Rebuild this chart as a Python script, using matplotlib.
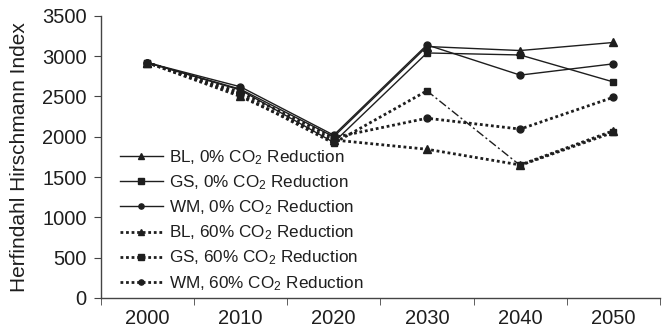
import numpy as np
import matplotlib
matplotlib.use("Agg")
import matplotlib.pyplot as plt

plt.rcParams['font.family'] = ['Liberation Sans', 'DejaVu Sans']
plt.rcParams['mathtext.fontset'] = 'custom'
plt.rcParams['mathtext.rm'] = 'Liberation Sans'
plt.rcParams['mathtext.default'] = 'regular'

years = [2000, 2010, 2020, 2030, 2040, 2050]

# HHI per scenario
bl_0 = [2920, 2590, 2000, 3120, 3070, 3170]
gs_0 = [2920, 2580, 1930, 3040, 3015, 2680]
wm_0 = [2920, 2620, 2020, 3140, 2765, 2905]
bl_60 = [2920, 2500, 1960, 1845, 1650, 2075]
gs_60 = [2920, 2520, 1920, 2570, 1645, 2055]
wm_60 = [2920, 2550, 1990, 2230, 2095, 2490]

ylabel = "Herfindahl Hirschmann Index"
yticks = [0, 500, 1000, 1500, 2000, 2500, 3000, 3500]

ink = '#1e1e1e'
solid = dict(color=ink, lw=1.0, ls='-')
dotted = dict(color=ink, lw=2.0, ls=(0, (1, 1)))

fig = plt.figure(figsize=(6.62, 3.31), dpi=100)
ax = fig.add_axes([0.152, 0.10, 0.845, 0.852])

ax.plot(years, bl_0, marker='^', ms=5.5, label="BL, 0% CO$_2$ Reduction", **solid)
ax.plot(years, gs_0, marker='s', ms=5, label="GS, 0% CO$_2$ Reduction", **solid)
ax.plot(years, wm_0, marker='o', ms=5, label="WM, 0% CO$_2$ Reduction", **solid)
ax.plot(years, bl_60, marker='^', ms=5.5, label="BL, 60% CO$_2$ Reduction", **dotted)
# GS 60% drawn in pieces: dotted, with a dash-dot drop between 2030 and 2040
ax.plot(years[:4], gs_60[:4], marker='s', ms=5, label="GS, 60% CO$_2$ Reduction", **dotted)
ax.plot(years[3:5], gs_60[3:5], color=ink, lw=1.0, ls=(0, (6, 2, 1.5, 2)))
ax.plot(years[4:], gs_60[4:], marker='s', ms=5, **dotted)
ax.plot(years, wm_60, marker='o', ms=5, label="WM, 60% CO$_2$ Reduction", **dotted)

ax.set_xlim(1995, 2055)
ax.set_ylim(0, 3500)
ax.set_yticks(yticks)
ax.set_xticks(years)
ax.set_xticks(np.arange(1995, 2056, 10), minor=True)
ax.tick_params(axis='x', which='major', length=0, pad=8, labelsize=14.5, colors=ink)
ax.tick_params(axis='x', which='minor', length=5, direction='out', color='#444')
ax.tick_params(axis='y', length=5, direction='out', color='#444', labelsize=14.5, labelcolor=ink, pad=5)
ax.set_ylabel(ylabel, fontsize=15, color=ink)
ax.yaxis.set_label_coords(-0.128, 0.5)

for s in ['top', 'right']:
    ax.spines[s].set_visible(False)
for s in ['left', 'bottom']:
    ax.spines[s].set_color('#444')
    ax.spines[s].set_linewidth(1.0)

ax.legend(loc='upper left', bbox_to_anchor=(0.181, 0.553), bbox_transform=fig.transFigure,
          frameon=False, fontsize=12.3, handlelength=2.5, handletextpad=0.4,
          labelspacing=0.38, borderaxespad=0, borderpad=0, labelcolor=ink,
          markerscale=0.75)

fig.savefig("out.png", dpi=100)
